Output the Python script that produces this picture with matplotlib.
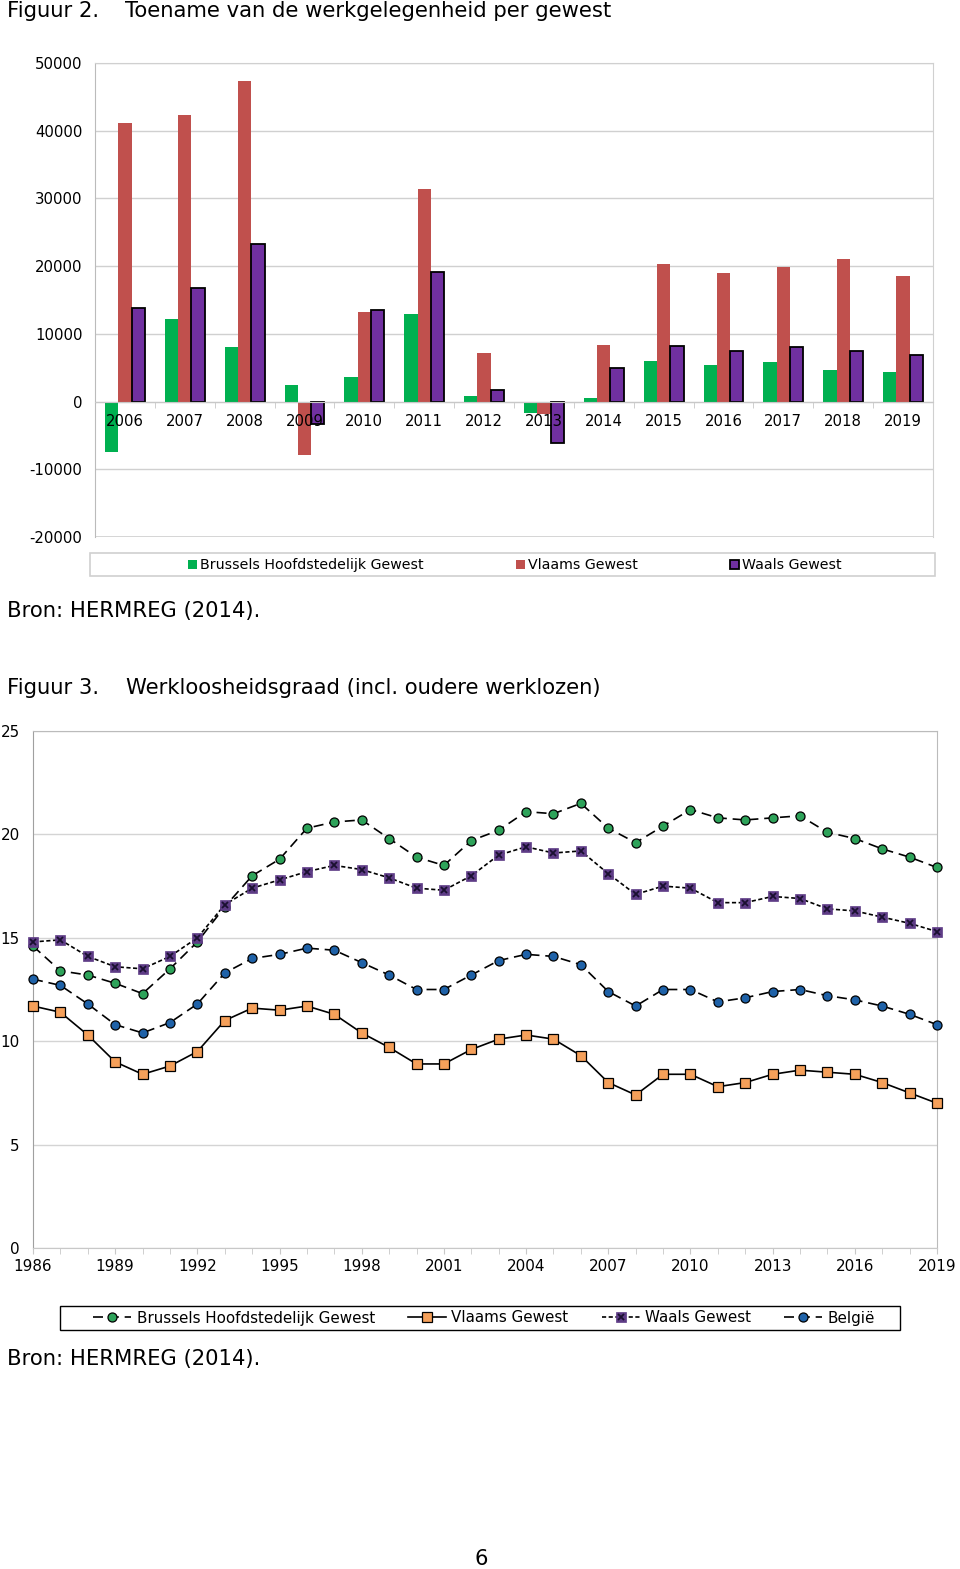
import numpy as np
import matplotlib
matplotlib.use("Agg")
import matplotlib.pyplot as plt
from matplotlib.patches import Rectangle

plt.rcParams["font.family"] = ["DejaVu Sans"]
plt.rcParams["axes.unicode_minus"] = False

# Figuur 2: toename werkgelegenheid per gewest
jaren_werk = [str(j) for j in range(2006, 2020)]
brussel_werk = [-7400, 12200, 8000, 2400, 3650, 12950, 800, -1700, 550, 6000, 5350, 5850, 4700, 4350]
vlaams_werk = [41100, 42350, 47350, -7900, 13300, 31400, 7200, -1900, 8400, 20300, 18950, 19850, 21000, 18550]
waals_werk = [13800, 16800, 23300, -3300, 13550, 19100, 1650, -6100, 4900, 8150, 7500, 8100, 7450, 6950]

# Figuur 3: werkloosheidsgraad
jaren_wl = list(range(1986, 2020))
brussel_wl = [14.6, 13.4, 13.2, 12.8, 12.3, 13.5, 14.8, 16.5, 18.0, 18.8,
              20.3, 20.6, 20.7, 19.8, 18.9, 18.5, 19.7, 20.2, 21.1, 21.0,
              21.5, 20.3, 19.6, 20.4, 21.2, 20.8, 20.7, 20.8, 20.9, 20.1,
              19.8, 19.3, 18.9, 18.4]
vlaams_wl = [11.7, 11.4, 10.3, 9.0, 8.4, 8.8, 9.5, 11.0, 11.6, 11.5,
             11.7, 11.3, 10.4, 9.7, 8.9, 8.9, 9.6, 10.1, 10.3, 10.1,
             9.3, 8.0, 7.4, 8.4, 8.4, 7.8, 8.0, 8.4, 8.6, 8.5,
             8.4, 8.0, 7.5, 7.0]
waals_wl = [14.8, 14.9, 14.1, 13.6, 13.5, 14.1, 15.0, 16.6, 17.4, 17.8,
            18.2, 18.5, 18.3, 17.9, 17.4, 17.3, 18.0, 19.0, 19.4, 19.1,
            19.2, 18.1, 17.1, 17.5, 17.4, 16.7, 16.7, 17.0, 16.9, 16.4,
            16.3, 16.0, 15.7, 15.3]
belgie_wl = [13.0, 12.7, 11.8, 10.8, 10.4, 10.9, 11.8, 13.3, 14.0, 14.2,
             14.5, 14.4, 13.8, 13.2, 12.5, 12.5, 13.2, 13.9, 14.2, 14.1,
             13.7, 12.4, 11.7, 12.5, 12.5, 11.9, 12.1, 12.4, 12.5, 12.2,
             12.0, 11.7, 11.3, 10.8]

W, H = 960, 1569
FS_BAR = 10.7
FS_LEG = 10.2
FS_LINE = 10.9
FS_TXT = 15.2


def box(left, top, right, bottom):
    # pixel coords (from top-left) -> figure fraction
    return [left / W, 1 - bottom / H, (right - left) / W, (bottom - top) / H]


def fy(y):
    return 1 - y / H


def bar_chart(fig):
    ax = fig.add_axes(box(95, 63, 933, 537))
    x = np.arange(len(jaren_werk))
    bw = 0.222
    ax.bar(x - bw, brussel_werk, bw, color="#00B050", label="Brussels Hoofdstedelijk Gewest", zorder=2)
    ax.bar(x, vlaams_werk, bw, color="#C0504D", label="Vlaams Gewest", zorder=2)
    ax.bar(x + bw, waals_werk, bw, color="#7030A0", edgecolor="black", linewidth=1.3,
           label="Waals Gewest", zorder=2)

    ax.set_xlim(-0.5, len(jaren_werk) - 0.5)
    ax.set_ylim(-20000, 50000)
    ax.set_yticks(range(-20000, 50001, 10000))
    ax.grid(axis="y", color="#D0D0D0", linewidth=1)
    ax.set_axisbelow(True)
    ax.xaxis.set_zorder(3)

    ax.spines["bottom"].set_position(("data", 0))
    ax.spines["bottom"].set_color("#C8C8C8")
    for s in ["top", "right"]:
        ax.spines[s].set_color("#D0D0D0")
    ax.spines["left"].set_color("#BBBBBB")

    ax.set_xticks(x)
    ax.set_xticklabels(jaren_werk, fontsize=FS_BAR)
    ax.set_xticks(np.arange(0.5, len(jaren_werk) - 0.5), minor=True)
    ax.tick_params(axis="x", which="major", length=0, pad=9)
    ax.tick_params(axis="x", which="minor", length=4, color="#C8C8C8")
    ax.tick_params(axis="y", length=0, labelsize=FS_BAR, pad=9)

    # bottom border at -20000
    ax.axhline(-20000, color="#D0D0D0", linewidth=1.2)

    fig.patches.append(Rectangle((90 / W, fy(576)), 845 / W, 23 / H, transform=fig.transFigure,
                                 fill=False, edgecolor="#D0D0D0", linewidth=1.2))
    fig.legend(*ax.get_legend_handles_labels(), loc="center", bbox_to_anchor=(515 / W, fy(565)),
               ncol=3, frameon=False, fontsize=FS_LEG, handlelength=0.6, handleheight=0.6,
               handletextpad=0.25, columnspacing=6.5, borderpad=0)


def line_chart(fig):
    ax = fig.add_axes(box(33, 731, 937, 1248))
    kw = dict(color="black", linewidth=1.2, markeredgecolor="black", markeredgewidth=0.9,
              markersize=6.5, clip_on=False, zorder=3)
    lb, = ax.plot(jaren_wl, brussel_wl, linestyle=(0, (6, 3.5)), marker="o",
                  markerfacecolor="#2EA35A", **kw)
    lv, = ax.plot(jaren_wl, vlaams_wl, linestyle="-", marker="s",
                  markerfacecolor="#F5A05A", **kw)
    lw, = ax.plot(jaren_wl, waals_wl, linestyle=(0, (2.5, 1.5)), marker="s",
                  markerfacecolor="#5E3C86", markeredgecolor="#5E3C86", markeredgewidth=0.5,
                  color="black", linewidth=1.2, markersize=6.5, clip_on=False, zorder=3)
    lx, = ax.plot(jaren_wl, waals_wl, linestyle="none", marker="x", markeredgecolor="#1A1030",
                  markeredgewidth=1.3, markersize=5, clip_on=False, zorder=4)
    lbe, = ax.plot(jaren_wl, belgie_wl, linestyle=(0, (6, 3.5)), marker="o",
                   markerfacecolor="#1F62A8", **kw)

    ax.set_xlim(1986, 2019)
    ax.set_ylim(0, 25)
    ax.set_yticks(range(0, 26, 5))
    ax.set_xticks(range(1986, 2020, 3))
    ax.set_xticks(jaren_wl, minor=True)
    ax.grid(axis="y", color="#D4D4D4", linewidth=1)
    ax.set_axisbelow(True)
    for s in ["top", "right"]:
        ax.spines[s].set_color("#BBBBBB")
    ax.spines["left"].set_color("#A0A0A0")
    ax.spines["bottom"].set_color("#C8C8C8")
    ax.tick_params(axis="x", which="both", length=4, color="#C8C8C8", labelsize=FS_LINE, pad=4)
    ax.tick_params(axis="y", length=0, labelsize=FS_LINE, pad=9.5)

    fig.patches.append(Rectangle((60 / W, fy(1330)), 840 / W, 24 / H, transform=fig.transFigure,
                                 fill=False, edgecolor="black", linewidth=1.0))
    fig.legend([lb, lv, (lw, lx), lbe],
               ["Brussels Hoofdstedelijk Gewest", "Vlaams Gewest", "Waals Gewest", "België"],
               loc="center", bbox_to_anchor=(484 / W, fy(1318)), ncol=4, frameon=False,
               fontsize=FS_LINE, handlelength=2.5, handletextpad=0.35, columnspacing=2.2, borderpad=0)


def main():
    fig = plt.figure(figsize=(W / 100, H / 100), dpi=100)

    fig.text(7 / W, fy(17), "Figuur 2.", fontsize=FS_TXT, va="baseline")
    fig.text(125 / W, fy(17), "Toename van de werkgelegenheid per gewest", fontsize=FS_TXT, va="baseline")
    bar_chart(fig)
    fig.text(7 / W, fy(617), "Bron: HERMREG (2014).", fontsize=FS_TXT, va="baseline")

    fig.text(7 / W, fy(694), "Figuur 3.", fontsize=FS_TXT, va="baseline")
    fig.text(126 / W, fy(694), "Werkloosheidsgraad (incl. oudere werklozen)", fontsize=FS_TXT, va="baseline")
    line_chart(fig)
    fig.text(7 / W, fy(1365), "Bron: HERMREG (2014).", fontsize=FS_TXT, va="baseline")

    fig.text(481 / W, fy(1565), "6", fontsize=FS_TXT, va="baseline", ha="center")

    fig.savefig("out.png", dpi=100)


if __name__ == "__main__":
    main()
